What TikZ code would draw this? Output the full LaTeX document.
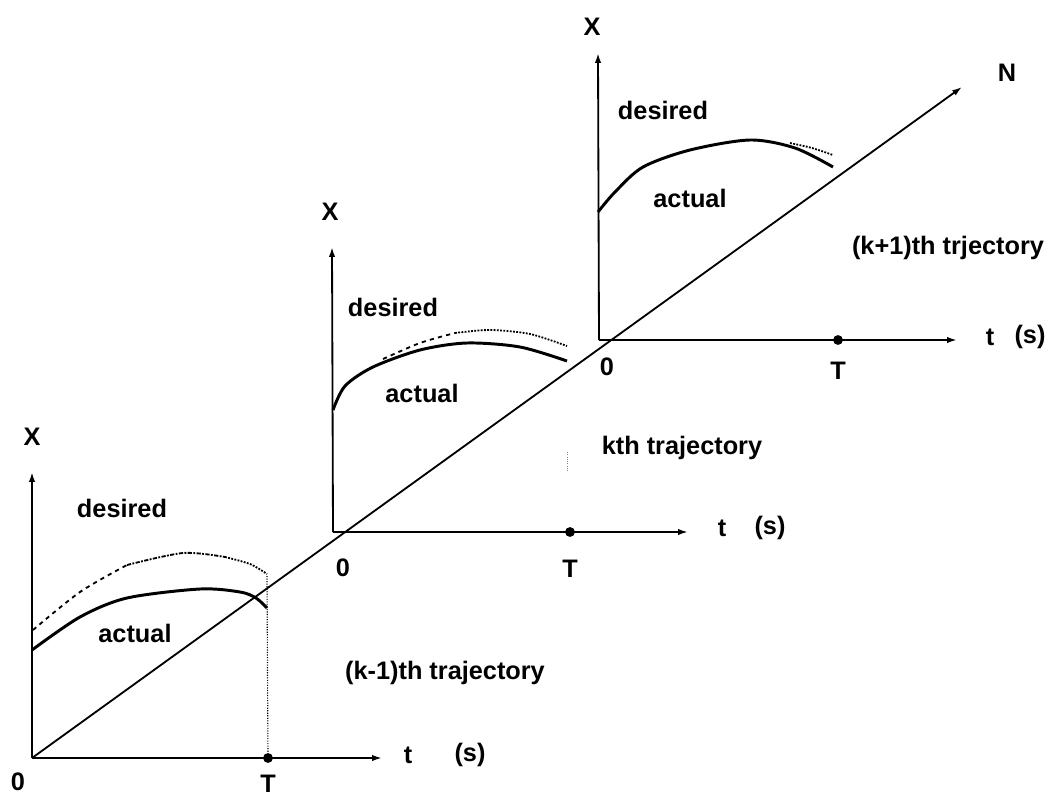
\documentclass[tikz,border=0pt]{standalone}
\usepackage{fontspec}
\setmainfont{Liberation Sans}
\usetikzlibrary{arrows.meta}

\tikzset{
  axis/.style={line width=1.3pt,-{Latex[length=7pt,width=4.5pt]}},
  actual/.style={line width=2.1pt},
  desired/.style={line width=1.3pt},
  lbl/.style={font=\fontsize{18}{21}\selectfont\bfseries,inner sep=0pt},
  tdot/.style={circle,fill,inner sep=0pt,minimum size=7pt}
}

\begin{document}
\begin{tikzpicture}[x=0.025cm,y=-0.025cm]
  \useasboundingbox (0,0) rectangle (1055,797);
  % origins of the three trials
  \coordinate (o1) at (32,758);
  \coordinate (o2) at (333,532);
  \coordinate (o3) at (599,340);
  % iteration axis
  \coordinate (ntip) at (962,87);
  \draw[axis] (o1) -- (ntip);
  \node[lbl] (n) at (1007,73) {N};

  % (k-1)th trial
  \coordinate (x1) at (32,472);
  \coordinate (t1) at (382,758);
  \draw[axis] (o1) -- (x1);
  \draw[axis] (o1) -- (t1);
  \node[tdot] (T1) at (268,758) {};
  \node[lbl] (xl1) at (32,437) {X};
  \node[lbl] (zl1) at (18,782) {0};
  \node[lbl] (Tl1) at (268,784) {T};
  \node[lbl] (tl1) at (408,755) {t};
  \node[lbl] (sl1) at (470,755) {(s)};
  \draw[actual] plot[smooth] coordinates {(32,650) (80,617) (127,598) (200,589) (240,592) (256,598) (267,608)};
  \draw[desired,dashed] plot[smooth] coordinates {(33,630) (80,592) (127,565)};
  \draw[desired,densely dash dot] plot[smooth] coordinates {(127,565) (183,553) (225,557)};
  \draw[desired,densely dotted] plot[smooth] coordinates {(225,557) (250,564) (267,574)};
  \coordinate (e1) at (267,576);
  \draw[densely dotted,line width=0.8pt] (e1) -- (T1);
  \node[lbl] (d1) at (122,508) {desired};
  \node[lbl] (a1) at (135,633) {actual};
  \node[lbl] (k1) at (445,673) {(k-1)th trajectory};

  % kth trial
  \coordinate (x2) at (332,247);
  \coordinate (t2) at (688,532);
  \draw[axis] (o2) -- (x2);
  \draw[axis] (o2) -- (t2);
  \node[tdot] (T2) at (570,532) {};
  \node[lbl] (xl2) at (330,212) {X};
  \node[lbl] (zl2) at (343,568) {0};
  \node[lbl] (Tl2) at (570,569) {T};
  \node[lbl] (tl2) at (722,528) {t};
  \node[lbl] (sl2) at (770,528) {(s)};
  \draw[actual] plot[smooth] coordinates {(333,410) (345,386) (373,367) (420,350) (467,343) (520,347) (567,361)};
  \draw[desired,dashed] plot[smooth] coordinates {(383,359) (420,343) (455,333)};
  \draw[desired,densely dotted] plot[smooth] coordinates {(455,333) (490,330) (530,334) (567,346)};
  \coordinate (e2a) at (567,452);
  \coordinate (e2b) at (567,472);
  \draw[densely dotted,line width=0.6pt,gray] (e2a) -- (e2b);
  \node[lbl] (d2) at (393,307) {desired};
  \node[lbl] (a2) at (422,393) {actual};
  \node[lbl] (k2) at (682,448) {kth trajectory};

  % (k+1)th trial
  \coordinate (x3) at (598,53);
  \coordinate (t3) at (957,340);
  \draw[axis] (o3) -- (x3);
  \draw[axis] (o3) -- (t3);
  \node[tdot] (T3) at (838,340) {};
  \node[lbl] (xl3) at (592,27) {X};
  \node[lbl] (zl3) at (607,367) {0};
  \node[lbl] (Tl3) at (838,371) {T};
  \node[lbl] (tl3) at (990,337) {t};
  \node[lbl] (sl3) at (1030,337) {(s)};
  \draw[actual] plot[smooth] coordinates {(598,212) (615,192) (643,167) (690,150) (750,140) (795,148) (833,167)};
  \draw[desired,densely dotted] plot[smooth] coordinates {(790,143) (812,148) (833,155)};
  \node[lbl] (d3) at (663,110) {desired};
  \node[lbl] (a3) at (690,198) {actual};
  \node[lbl] (k3) at (948,248) {(k+1)th trjectory};
\end{tikzpicture}
\end{document}
